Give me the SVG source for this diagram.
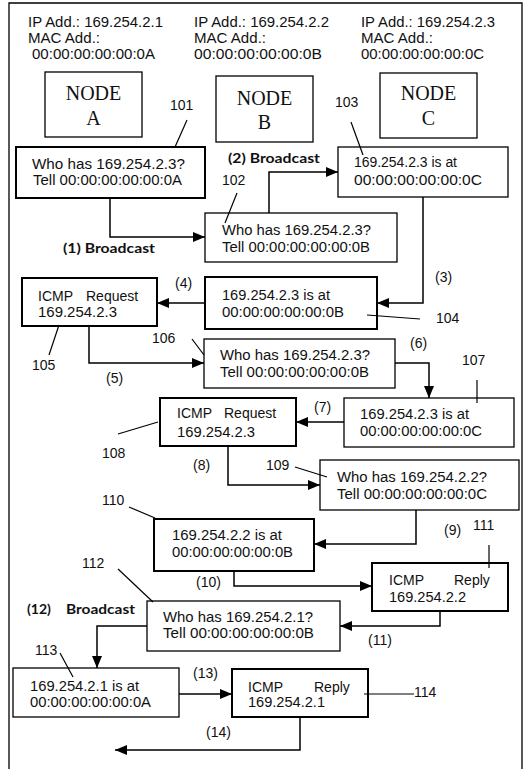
<svg xmlns="http://www.w3.org/2000/svg" width="525" height="769" viewBox="0 0 525 769">
<defs>
<marker id="ah" markerUnits="userSpaceOnUse" markerWidth="13" markerHeight="11" refX="12" refY="5" orient="auto">
<path d="M0,0 L12,5 L0,10 z" fill="#000"/>
</marker>
<style>
text{font-family:"Liberation Sans",Arial,sans-serif;font-size:14px;fill:#111}
.tm{font-family:"Liberation Serif","Times New Roman",serif;font-size:20px}
.b{font-family:Lato,"Liberation Sans",sans-serif;font-weight:bold;font-size:14px}
.thick{fill:#fff;stroke:#000;stroke-width:2}
.thin{fill:#fff;stroke:#000;stroke-width:1.3}
.con{fill:none;stroke:#000;stroke-width:1.5;marker-end:url(#ah)}
.ld{fill:none;stroke:#000;stroke-width:1.2}
</style>
</defs>
<rect width="525" height="769" fill="#fff"/>
<path d="M9,772 V3 H522 V772" fill="none" stroke="#000" stroke-width="1.3"/>

<g id="nodeA">
<text x="28" y="27" textLength="135" lengthAdjust="spacingAndGlyphs">IP Add.: 169.254.2.1</text>
<text x="28" y="43" textLength="72" lengthAdjust="spacingAndGlyphs">MAC Add.:</text>
<text x="32" y="59" textLength="123" lengthAdjust="spacingAndGlyphs">00:00:00:00:00:0A</text>
<rect class="thin" x="45" y="72" width="97" height="65"/>
<text class="tm" x="93.5" y="100" text-anchor="middle">NODE</text>
<text class="tm" x="93.5" y="125" text-anchor="middle">A</text>
</g>
<g id="nodeB">
<text x="194" y="27" textLength="135" lengthAdjust="spacingAndGlyphs">IP Add.: 169.254.2.2</text>
<text x="194" y="43" textLength="72" lengthAdjust="spacingAndGlyphs">MAC Add.:</text>
<text x="194" y="59" textLength="128" lengthAdjust="spacingAndGlyphs">00:00:00:00:00:0B</text>
<rect class="thin" x="216" y="76" width="97" height="66"/>
<text class="tm" x="264.5" y="105" text-anchor="middle">NODE</text>
<text class="tm" x="264.5" y="129" text-anchor="middle">B</text>
</g>
<g id="nodeC">
<text x="361" y="27" textLength="134" lengthAdjust="spacingAndGlyphs">IP Add.: 169.254.2.3</text>
<text x="361" y="43" textLength="72" lengthAdjust="spacingAndGlyphs">MAC Add.:</text>
<text x="361" y="59" textLength="123" lengthAdjust="spacingAndGlyphs">00:00:00:00:00:0C</text>
<rect class="thin" x="380" y="73" width="97" height="65"/>
<text class="tm" x="428.5" y="100" text-anchor="middle">NODE</text>
<text class="tm" x="428.5" y="125" text-anchor="middle">C</text>
</g>

<g id="connectors">
<path class="con" d="M110,198 V237 H205"/>
<path class="con" d="M269,213 V172 H338"/>
<path class="con" d="M423,197 V303 H377"/>
<path class="con" d="M205,303 H157"/>
<path class="con" d="M89,326 V363 H204"/>
<path class="con" d="M395,363 H429 V398"/>
<path class="con" d="M344,422 H296"/>
<path class="con" d="M228,446 V485 H320"/>
<path class="con" d="M416,510 V544 H314"/>
<path class="con" d="M234,571 V586 H372"/>
<path class="con" d="M440,611 V626 H340"/>
<path class="con" d="M147,626 H97 V668"/>
<path class="con" d="M179,694 H232"/>
<path class="con" d="M300,717 V750 H115"/>
</g>

<g id="m101">
<rect class="thick" x="16" y="147" width="189" height="51"/>
<text x="32" y="169" textLength="153" lengthAdjust="spacingAndGlyphs">Who has 169.254.2.3?</text>
<text x="33" y="185" textLength="149" lengthAdjust="spacingAndGlyphs">Tell 00:00:00:00:00:0A</text>
</g>
<g id="m102">
<rect class="thin" x="205" y="213" width="192" height="49"/>
<text x="222" y="235" textLength="149" lengthAdjust="spacingAndGlyphs">Who has 169.254.2.3?</text>
<text x="222" y="252" textLength="148" lengthAdjust="spacingAndGlyphs">Tell 00:00:00:00:00:0B</text>
</g>
<g id="m103">
<rect class="thin" x="338" y="147" width="170" height="50"/>
<text x="354" y="167" textLength="103" lengthAdjust="spacingAndGlyphs">169.254.2.3 is at</text>
<text x="354" y="185" textLength="128" lengthAdjust="spacingAndGlyphs">00:00:00:00:00:0C</text>
</g>
<g id="m104">
<rect class="thick" x="205" y="277" width="172" height="52"/>
<text x="222" y="300" textLength="108" lengthAdjust="spacingAndGlyphs">169.254.2.3 is at</text>
<text x="222" y="317" textLength="122" lengthAdjust="spacingAndGlyphs">00:00:00:00:00:0B</text>
</g>
<g id="m105">
<rect class="thick" x="22" y="278" width="135" height="48"/>
<text x="38" y="301">ICMP <tspan x="86">Request</tspan></text>
<text x="38" y="317" textLength="79" lengthAdjust="spacingAndGlyphs">169.254.2.3</text>
</g>
<g id="m106">
<rect class="thin" x="204" y="339" width="191" height="49"/>
<text x="220" y="360" textLength="150" lengthAdjust="spacingAndGlyphs">Who has 169.254.2.3?</text>
<text x="220" y="377" textLength="149" lengthAdjust="spacingAndGlyphs">Tell 00:00:00:00:00:0B</text>
</g>
<g id="m107">
<rect class="thin" x="344" y="398" width="170" height="49"/>
<text x="360" y="419" textLength="109" lengthAdjust="spacingAndGlyphs">169.254.2.3 is at</text>
<text x="360" y="436" textLength="122" lengthAdjust="spacingAndGlyphs">00:00:00:00:00:0C</text>
</g>
<g id="m108">
<rect class="thick" x="160" y="398" width="136" height="48"/>
<text x="177" y="418">ICMP <tspan x="224">Request</tspan></text>
<text x="177" y="437" textLength="78" lengthAdjust="spacingAndGlyphs">169.254.2.3</text>
</g>
<g id="m109">
<rect class="thin" x="320" y="460" width="199" height="50"/>
<text x="337" y="482" textLength="150" lengthAdjust="spacingAndGlyphs">Who has 169.254.2.2?</text>
<text x="337" y="499" textLength="150" lengthAdjust="spacingAndGlyphs">Tell 00:00:00:00:00:0C</text>
</g>
<g id="m110">
<rect class="thick" x="154" y="519" width="160" height="52"/>
<text x="172" y="540" textLength="110" lengthAdjust="spacingAndGlyphs">169.254.2.2 is at</text>
<text x="172" y="557" textLength="121" lengthAdjust="spacingAndGlyphs">00:00:00:00:00:0B</text>
</g>
<g id="m111">
<rect class="thick" x="372" y="563" width="136" height="48"/>
<text x="389" y="585">ICMP <tspan x="454">Reply</tspan></text>
<text x="389" y="602" textLength="77" lengthAdjust="spacingAndGlyphs">169.254.2.2</text>
</g>
<g id="m112">
<rect class="thin" x="147" y="601" width="193" height="50"/>
<text x="163" y="622" textLength="150" lengthAdjust="spacingAndGlyphs">Who has 169.254.2.1?</text>
<text x="163" y="638" textLength="151" lengthAdjust="spacingAndGlyphs">Tell 00:00:00:00:00:0B</text>
</g>
<g id="m113">
<rect class="thin" x="13" y="668" width="166" height="49"/>
<text x="30" y="691" textLength="109" lengthAdjust="spacingAndGlyphs">169.254.2.1 is at</text>
<text x="30" y="707" textLength="121" lengthAdjust="spacingAndGlyphs">00:00:00:00:00:0A</text>
</g>
<g id="m114">
<rect class="thick" x="232" y="669" width="136" height="48"/>
<text x="248" y="692">ICMP <tspan x="314">Reply</tspan></text>
<text x="248" y="707" textLength="77" lengthAdjust="spacingAndGlyphs">169.254.2.1</text>
</g>

<g id="leaders">
<path class="ld" d="M187,120 L175,147"/>
<path class="ld" d="M237,193 L225,223"/>
<path class="ld" d="M351,122 L363,155"/>
<path class="ld" d="M367,315 L420,319"/>
<path class="ld" d="M49,355 L59,325"/>
<path class="ld" d="M192,339 L204,355"/>
<path class="ld" d="M477,380 V403"/>
<path class="ld" d="M118,434 L158,422"/>
<path class="ld" d="M295,467 L327,477"/>
<path class="ld" d="M129,507 L155,518"/>
<path class="ld" d="M489,545 V568"/>
<path class="ld" d="M118,569 L153,602"/>
<path class="ld" d="M60,653 L73,677"/>
<path class="ld" d="M364,694 H414"/>
</g>

<g id="labels">
<text x="170" y="110">101</text>
<text x="222" y="185">102</text>
<text x="335" y="107">103</text>
<text x="436" y="323">104</text>
<text x="32" y="370">105</text>
<text x="152" y="343">106</text>
<text x="462" y="365">107</text>
<text x="102" y="458">108</text>
<text x="266" y="470">109</text>
<text x="102" y="505">110</text>
<text x="473" y="530">111</text>
<text x="82" y="568">112</text>
<text x="35" y="655">113</text>
<text x="414" y="697">114</text>
<text class="b" x="63" y="253" textLength="92" lengthAdjust="spacingAndGlyphs">(1) Broadcast</text>
<text class="b" x="228" y="163" textLength="92" lengthAdjust="spacingAndGlyphs">(2) Broadcast</text>
<text class="b" x="27" y="614">(12)</text>
<text class="b" x="66" y="614" textLength="69" lengthAdjust="spacingAndGlyphs">Broadcast</text>
<text x="435" y="282">(3)</text>
<text x="175" y="288">(4)</text>
<text x="106" y="383">(5)</text>
<text x="410" y="348">(6)</text>
<text x="314" y="412">(7)</text>
<text x="193" y="470">(8)</text>
<text x="444" y="535">(9)</text>
<text x="196" y="587">(10)</text>
<text x="368" y="645">(11)</text>
<text x="193" y="678">(13)</text>
<text x="206" y="737">(14)</text>
</g>
</svg>
